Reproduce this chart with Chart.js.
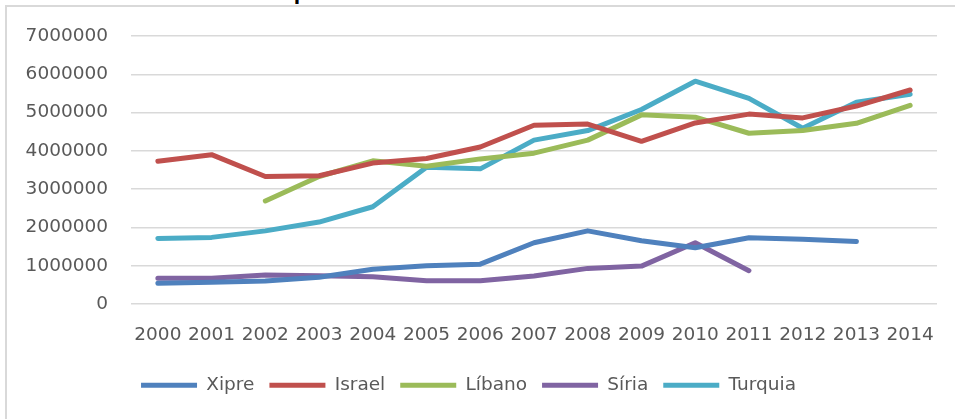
<!DOCTYPE html>
<html>
<head>
<meta charset="utf-8">
<script src="https://cdn.jsdelivr.net/npm/chart.js@4"></script>
<style>
  body { margin: 0; background: #fff; }
  #wrap { position: relative; width: 955px; height: 419px; overflow: hidden; }
  #title { position: absolute; left: 10px; top: -22px; font: bold 23px "Liberation Sans", sans-serif; color: #000; white-space: nowrap; }
  #frame { position: absolute; left: 5px; top: 5px; width: 1000px; height: 500px; border: 2px solid #d9d9d9; }
  #taskChart { position: absolute; left: 0; top: 0; }
</style>
</head>
<body>
<div id="wrap">
  <div id="title">Gràfic 3.3: Índex de la despesa turística al Mediterrani Est</div>
  <div id="frame"></div>
  <canvas id="taskChart" width="955" height="419"></canvas>
</div>
<script>
const years = ['2000', '2001', '2002', '2003', '2004', '2005', '2006', '2007', '2008', '2009', '2010', '2011', '2012', '2013', '2014'];
const xipre = [540000, 570000, 600000, 700000, 910000, 1000000, 1040000, 1600000, 1910000, 1650000, 1470000, 1730000, 1690000, 1630000, null];
const israel = [3730000, 3900000, 3330000, 3350000, 3680000, 3800000, 4100000, 4670000, 4700000, 4250000, 4730000, 4960000, 4860000, 5170000, 5590000];
const libano = [null, null, 2690000, 3330000, 3740000, 3600000, 3790000, 3940000, 4280000, 4940000, 4880000, 4460000, 4530000, 4720000, 5190000];
const siria = [670000, 670000, 760000, 740000, 710000, 610000, 610000, 730000, 930000, 990000, 1600000, 870000, null, null, null];
const turquia = [1710000, 1740000, 1910000, 2140000, 2540000, 3570000, 3530000, 4280000, 4530000, 5080000, 5820000, 5370000, 4590000, 5270000, 5480000];
const yTicks = [0, 1000000, 2000000, 3000000, 4000000, 5000000, 6000000, 7000000];

// fixed legend height so the x labels and legend land where the reference has them
const legendHeight = 58;

const fixLegend = {
    id: 'fixLegend',
    beforeLayout(chart) {
        const lg = chart.legend;
        if (lg && !lg._fixed) {
            const orig = lg.fit;
            lg.fit = function () {
                orig.call(this);
                this.height = legendHeight;
            };
            lg._fixed = true;
        }
    }
};

document.addEventListener('DOMContentLoaded', function () {
    const font = { family: '"DejaVu Sans", sans-serif', size: 18.5 };
    const line = function (label, data, color) {
        return {
            label: label,
            data: data,
            borderColor: color,
            backgroundColor: color,
            borderWidth: 5,
            borderCapStyle: 'round',
            borderJoinStyle: 'round',
            pointRadius: 0,
            pointStyle: 'line',
            tension: 0,
            spanGaps: false
        };
    };

    const ctx = document.getElementById('taskChart').getContext('2d');
    const chart = new Chart(ctx, {
        type: 'line',
        data: {
            labels: years,
            datasets: [
                line('Xipre', xipre, '#4f81bd'),
                line('Israel', israel, '#c0504d'),
                line('Líbano', libano, '#9bbb59'),
                line('Síria', siria, '#8064a2'),
                line('Turquia', turquia, '#4bacc6')
            ]
        },
        plugins: [fixLegend],
        options: {
            responsive: false,
            animation: false,
            layout: { padding: { left: 0, right: 18, top: 36, bottom: 0 } },
            plugins: {
                tooltip: { enabled: false },
                legend: {
                    position: 'bottom',
                    labels: {
                        usePointStyle: true,
                        pointStyleWidth: 56,
                        boxHeight: 5,
                        padding: 15,
                        color: '#595959',
                        font: font
                    }
                }
            },
            scales: {
                x: {
                    offset: true,
                    afterFit: function (scale) { scale.height = 57; },
                    grid: { display: false, drawTicks: false },
                    border: { display: false },
                    ticks: { color: '#595959', font: font, padding: 20, maxRotation: 0 }
                },
                y: {
                    min: 0,
                    max: 7000000,
                    afterFit: function (scale) { scale.width = 131; },
                    afterBuildTicks: function (scale) {
                        scale.ticks = yTicks.map(function (v) { return { value: v }; });
                    },
                    grid: { color: '#d9d9d9', lineWidth: 1.5, drawTicks: false },
                    border: { display: false },
                    ticks: {
                        color: '#595959',
                        font: font,
                        padding: 23,
                        callback: function (v) { return String(v); }
                    }
                }
            }
        }
    });
});
</script>
</body>
</html>
